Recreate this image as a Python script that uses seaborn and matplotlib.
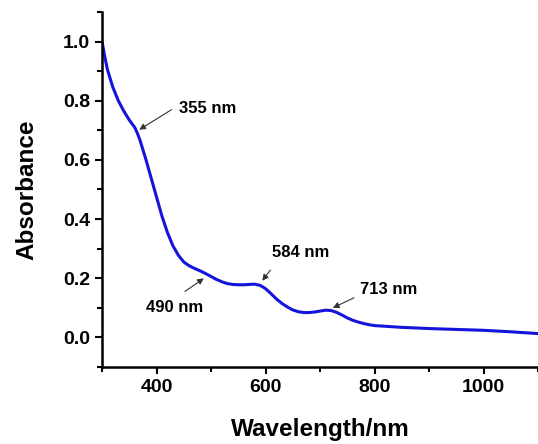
import numpy as np
import pandas as pd
import matplotlib.pyplot as plt
from matplotlib.ticker import MultipleLocator
import seaborn as sns

# Spettro UV-Vis
wavelength = [300, 305, 310, 320, 330, 340, 350, 360, 365, 370, 380, 390, 400, 410, 420, 430,
              440, 450, 460, 470, 480, 490, 500, 510, 520, 530, 540, 550, 560, 570, 580, 590,
              600, 610, 620, 630, 640, 650, 660, 670, 680, 690, 700, 710, 720, 730, 740, 750,
              760, 770, 780, 790, 800, 850, 900, 950, 1000, 1050, 1100]
absorbance = [1.00, 0.95, 0.905, 0.845, 0.80, 0.765, 0.735, 0.71, 0.69, 0.665, 0.605, 0.54, 0.475, 0.41, 0.355, 0.31,
              0.278, 0.255, 0.242, 0.233, 0.225, 0.216, 0.206, 0.196, 0.188, 0.182, 0.179, 0.178, 0.178, 0.179, 0.180, 0.176,
              0.165, 0.148, 0.13, 0.115, 0.103, 0.093, 0.087, 0.084, 0.084, 0.086, 0.089, 0.092, 0.091, 0.085, 0.076, 0.066,
              0.058, 0.052, 0.047, 0.043, 0.040, 0.034, 0.030, 0.027, 0.024, 0.019, 0.013]

# Picchi annotati: etichetta, punta freccia, coda freccia
peak_labels = ['355 nm', '490 nm', '584 nm', '713 nm']
peak_xy = [(364, 0.697), (491, 0.205), (591, 0.184), (719, 0.096)]
text_xy = [(494, 0.775), (434, 0.101), (665, 0.287), (825, 0.162)]
tail_xy = [(432, 0.775), (448, 0.150), (612, 0.235), (767, 0.138)]

df = pd.DataFrame({'Wavelength': wavelength, 'Absorbance': absorbance})

sns.set_style('ticks')
plt.rcParams['font.family'] = ['Liberation Sans', 'DejaVu Sans']
plt.rcParams['font.weight'] = 'bold'
plt.rcParams['text.color'] = 'black'
plt.rcParams['axes.labelcolor'] = 'black'
plt.rcParams['xtick.color'] = 'black'
plt.rcParams['ytick.color'] = 'black'
plt.rcParams['axes.edgecolor'] = 'black'

fig = plt.figure(figsize=(5.38, 4.44), dpi=100)
ax = fig.add_axes([102 / 538, 77 / 444, 436 / 538, 355 / 444])

sns.lineplot(data=df, x='Wavelength', y='Absorbance', color='#1414dc', linewidth=2.2, ax=ax)

for lab, p, t, tl in zip(peak_labels, peak_xy, text_xy, tail_xy):
    ax.text(t[0], t[1], lab, fontsize=12, fontweight='bold', ha='center', va='center', color='black')
    ax.annotate('', xy=p, xytext=tl,
                arrowprops=dict(arrowstyle='-|>', color='#333333', lw=0.8, mutation_scale=9))

ax.set_xlim(300, 1100)
ax.set_ylim(-0.1, 1.1)
ax.xaxis.set_major_locator(MultipleLocator(200))
ax.xaxis.set_minor_locator(MultipleLocator(100))
ax.yaxis.set_major_locator(MultipleLocator(0.2))
ax.yaxis.set_minor_locator(MultipleLocator(0.1))
ax.set_yticks([0.0, 0.2, 0.4, 0.6, 0.8, 1.0])
ax.set_yticklabels(['0.0', '0.2', '0.4', '0.6', '0.8', '1.0'])
ax.set_xticks([400, 600, 800, 1000])

ax.tick_params(which='major', direction='out', length=5, width=1.5, labelsize=14)
ax.tick_params(which='minor', direction='out', length=3.5, width=1.5)
for lab in ax.get_xticklabels() + ax.get_yticklabels():
    lab.set_fontweight('bold')

for s in ['top', 'right']:
    ax.spines[s].set_visible(False)
for s in ['left', 'bottom']:
    ax.spines[s].set_linewidth(1.8)

ax.set_xlabel('Wavelength/nm', fontsize=17.5, fontweight='bold', labelpad=16)
ax.set_ylabel('Absorbance', fontsize=17.5, fontweight='bold', labelpad=18)

fig.savefig('out.png', dpi=100)
